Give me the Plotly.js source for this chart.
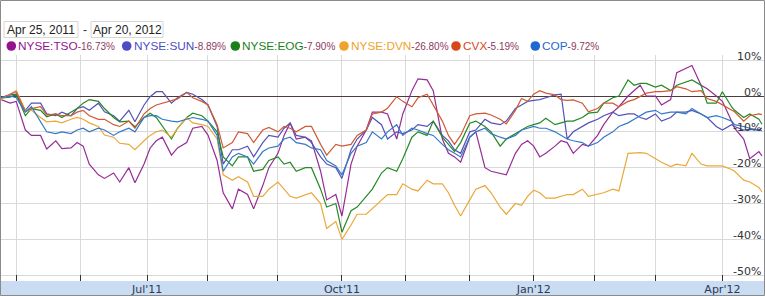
<!DOCTYPE html>
<html><head><meta charset="utf-8">
<script src="https://cdn.plot.ly/plotly-3.0.1.min.js"></script>
<style>html,body{margin:0;padding:0;background:#fff;overflow:hidden}#chart{width:765px;height:296px}</style>
</head><body><div id="chart"></div>
<script>
// ---- data ----
const dates = ['2011-04-25','2011-04-28','2011-05-02','2011-05-05','2011-05-09','2011-05-12','2011-05-16','2011-05-19','2011-05-23','2011-05-26','2011-05-31','2011-06-02','2011-06-06','2011-06-09','2011-06-13','2011-06-16','2011-06-20','2011-06-23','2011-06-27','2011-06-30','2011-07-05','2011-07-07','2011-07-11','2011-07-14','2011-07-18','2011-07-21','2011-07-25','2011-07-28','2011-08-01','2011-08-04','2011-08-08','2011-08-11','2011-08-15','2011-08-18','2011-08-22','2011-08-25','2011-08-29','2011-09-01','2011-09-06','2011-09-08','2011-09-12','2011-09-15','2011-09-19','2011-09-22','2011-09-26','2011-09-29','2011-10-03','2011-10-06','2011-10-10','2011-10-13','2011-10-17','2011-10-20','2011-10-24','2011-10-27','2011-10-31','2011-11-03','2011-11-07','2011-11-10','2011-11-14','2011-11-17','2011-11-21','2011-11-23','2011-11-28','2011-12-01','2011-12-05','2011-12-08','2011-12-12','2011-12-15','2011-12-19','2011-12-22','2011-12-27','2011-12-29','2012-01-03','2012-01-05','2012-01-09','2012-01-12','2012-01-17','2012-01-19','2012-01-23','2012-01-26','2012-01-30','2012-02-02','2012-02-06','2012-02-09','2012-02-13','2012-02-16','2012-02-21','2012-02-23','2012-02-27','2012-03-01','2012-03-05','2012-03-08','2012-03-12','2012-03-15','2012-03-19','2012-03-22','2012-03-26','2012-03-29','2012-04-02','2012-04-05','2012-04-09','2012-04-12','2012-04-16','2012-04-19','2012-04-20'];

const tso = [-1.0,-2.0,-1.5,-9.5,-11.0,-11.0,-14.8,-12.5,-14.7,-14.5,
 -13.0,-14.0,-19.0,-22.0,-23.0,-21.5,-24.0,-20.0,-24.2,-19.0,
 -14.5,-12.5,-11.5,-16.5,-14.5,-13.0,-9.0,-8.5,-10.9,-18.0,
 -27.0,-31.5,-26.0,-27.5,-31.5,-25.0,-20.0,-16.0,-11.0,-7.5,
 -12.0,-11.5,-12.5,-21.0,-29.0,-27.5,-33.5,-19.0,-14.0,-9.5,
 -4.5,-4.5,-5.0,-12.0,-5.0,1.5,4.8,4.5,1.5,-12.0,
 -16.0,-17.0,-18.5,-11.5,-10.0,-20.0,-21.0,-21.5,-22.0,-16.0,
 -13.5,-12.5,-14.0,-17.0,-16.0,-14.0,-12.5,-13.0,-16.0,-13.5,
 -14.0,-11.0,-8.0,-4.5,-3.0,0.0,1.5,3.0,0.0,0.0,
 -2.5,-1.0,6.5,7.8,8.5,3.0,2.0,0.0,-1.5,-7.0,
 -9.0,-12.0,-17.5,-15.5,-16.7];

const sun = [-0.5,0.3,0.5,-4.0,-2.0,-2.0,-5.0,-5.5,-4.5,-5.5,
 -3.5,-3.0,-4.0,-2.0,-4.4,-5.5,-7.0,-4.0,-7.2,-2.5,
 -0.2,1.2,1.2,-2.0,-0.5,1.0,0.5,-1.0,-2.5,-8.5,
 -19.0,-15.0,-15.0,-14.0,-17.0,-13.0,-11.0,-11.5,-9.0,-7.5,
 -11.0,-11.5,-13.0,-17.0,-19.0,-20.0,-23.0,-15.0,-12.0,-9.5,
 -6.0,-8.0,-12.0,-10.0,-10.5,-9.5,-8.0,-8.5,-7.0,-11.0,
 -12.5,-15.0,-16.0,-10.0,-9.5,-6.5,-7.5,-8.0,-7.0,-3.5,
 -2.5,-1.5,-1.2,-1.0,-0.5,0.3,0.5,-12.0,-10.0,-8.5,
 -7.5,-6.5,-5.5,-4.5,-5.5,-5.0,-5.0,-6.0,-6.5,-5.0,
 -7.0,-6.0,-4.5,-4.5,-4.0,-5.0,-6.0,-8.5,-9.5,-8.0,
 -8.5,-9.5,-9.3,-9.5,-8.9];

const eog = [-0.5,-0.3,0.5,-5.5,-3.5,-4.0,-5.8,-5.0,-6.0,-4.5,
 -3.5,-2.0,-1.0,-1.5,-3.5,-6.0,-7.2,-7.0,-8.6,-6.0,
 -4.8,-6.0,-8.5,-12.0,-9.0,-6.0,-4.8,-5.5,-7.0,-10.0,
 -17.0,-19.5,-17.0,-17.0,-21.0,-20.5,-18.0,-17.0,-19.0,-18.5,
 -21.0,-20.0,-20.0,-26.0,-31.0,-30.0,-38.0,-32.0,-31.0,-28.0,
 -26.0,-21.5,-20.0,-21.0,-17.5,-11.5,-10.0,-11.0,-7.0,-11.5,
 -13.5,-15.5,-13.0,-7.6,-7.0,-8.5,-10.0,-14.0,-12.0,-10.5,
 -9.5,-8.5,-8.0,-7.5,-6.2,-8.0,-7.5,-7.0,-7.0,-6.0,
 -4.8,-4.5,-2.0,-0.5,0.0,4.5,3.0,3.5,3.5,2.5,
 3.0,1.5,3.0,4.0,4.5,3.0,-2.0,-2.0,1.2,-3.0,
 -4.0,-6.0,-5.0,-6.5,-7.9];

const dvn = [-1.0,0.5,1.5,-4.0,-4.0,-6.0,-7.2,-7.0,-7.5,-6.5,
 -6.0,-6.5,-7.5,-8.5,-10.9,-11.5,-13.2,-13.5,-15.0,-12.5,
 -11.0,-10.0,-9.5,-11.5,-9.0,-6.0,-7.5,-8.0,-8.5,-12.0,
 -22.0,-23.5,-22.5,-24.0,-28.0,-28.0,-26.0,-24.0,-26.0,-28.0,
 -28.5,-27.5,-27.0,-30.0,-37.0,-35.0,-40.0,-36.0,-33.0,-33.0,
 -31.5,-29.0,-27.5,-27.5,-24.5,-26.0,-26.5,-23.5,-24.5,-24.5,
 -27.0,-30.5,-33.5,-29.0,-26.0,-25.0,-27.0,-31.0,-33.0,-30.0,
 -30.5,-28.0,-26.3,-27.0,-28.5,-28.5,-28.0,-27.5,-27.5,-26.0,
 -28.0,-27.5,-27.0,-26.0,-26.5,-16.0,-15.8,-15.8,-16.0,-17.5,
 -18.5,-19.7,-19.0,-19.5,-16.0,-19.0,-19.5,-19.5,-19.5,-20.5,
 -21.0,-23.5,-24.0,-25.5,-26.8];

const cvx = [-0.5,0.5,1.2,-4.4,-3.5,-3.0,-5.3,-5.0,-5.5,-5.5,
 -4.5,-4.0,-5.5,-6.5,-6.5,-8.0,-8.5,-7.0,-9.0,-5.0,
 -3.5,-2.5,-2.0,-1.2,-0.8,1.0,-0.5,-1.5,-2.5,-8.0,
 -14.5,-13.0,-10.0,-10.5,-13.0,-9.5,-8.8,-10.0,-8.5,-9.0,
 -10.0,-8.5,-8.5,-13.5,-16.5,-13.5,-14.0,-13.5,-11.0,-9.5,
 -5.0,-4.5,-3.4,-0.2,-1.5,-3.0,-0.5,0.5,-2.5,-7.0,
 -11.0,-13.5,-11.0,-5.5,-5.0,-4.8,-5.3,-6.5,-7.8,-4.0,
 -0.7,-1.5,0.5,1.5,0.8,0.3,-1.0,-1.2,-1.1,-2.0,
 -4.4,-3.5,-2.0,-2.0,-3.0,-1.5,-1.0,0.0,0.8,1.2,
 1.2,1.5,2.6,2.0,1.2,1.5,-0.7,-1.5,-2.5,-4.0,
 -4.4,-7.0,-5.5,-5.0,-5.2];

const cop = [-0.5,0.0,-0.5,-4.5,-3.0,-7.0,-10.0,-10.5,-10.0,-10.5,
 -9.5,-9.0,-10.0,-9.0,-9.5,-11.0,-10.0,-9.0,-10.0,-6.0,
 -5.5,-5.5,-6.5,-7.0,-7.2,-6.5,-6.0,-6.5,-7.0,-11.0,
 -21.0,-17.0,-16.0,-17.0,-19.0,-15.5,-14.5,-14.0,-12.0,-11.5,
 -13.0,-13.5,-14.5,-15.0,-18.0,-19.5,-22.0,-16.0,-14.0,-13.0,
 -10.0,-12.0,-10.0,-8.0,-11.0,-9.0,-9.5,-10.5,-11.0,-13.5,
 -15.0,-16.0,-17.0,-11.5,-10.0,-9.0,-10.5,-11.5,-12.0,-11.0,
 -9.5,-9.0,-8.5,-9.0,-9.0,-10.0,-11.0,-12.0,-12.5,-13.0,
 -14.0,-13.0,-11.5,-10.0,-8.5,-7.5,-6.5,-5.5,-4.5,-4.0,
 -5.0,-4.5,-4.5,-5.0,-3.5,-5.0,-6.0,-5.5,-6.0,-7.0,
 -8.0,-8.5,-9.0,-9.5,-9.7];

const names = ['NYSE:TSO','NYSE:SUN','NYSE:EOG','NYSE:DVN','CVX','COP'];
const pcts = ['-16.73%','-8.89%','-7.90%','-26.80%','-5.19%','-9.72%'];
const seriesValues = [tso, sun, eog, dvn, cvx, cop];

const monthTicks = ['2011-05-02','2011-06-01','2011-07-01','2011-08-01','2011-09-01','2011-10-03','2011-11-01','2011-12-01','2012-01-03','2012-02-01','2012-03-01','2012-04-02'];
const monthLabels = ['','',"Jul'11",'','',"Oct'11",'','',"Jan'12",'','',"Apr'12"];
const yTicks = [10,0,-10,-20,-30,-40,-50];
const holidays = ['2011-05-30','2011-07-04','2011-09-05','2011-11-24','2011-12-26','2012-01-02','2012-01-16','2012-02-20','2012-04-06'];
const startLabel = 'Apr 25, 2011';
const endLabel = 'Apr 20, 2012';

// ---- styles ----
const lineColors = ['#962c96','#5252b8','#238a23','#eba83a','#cf5a36','#3578c8'];
const nameColors = ['#93128f','#4d4dc2','#1b7f1b','#f0a32c','#d9461c','#1f68d2'];
const pctColor = '#8e3a62';

const W = 765, H = 296;
const M = {l:1, r:0, t:55, b:15};
const plotW = W - M.l - M.r, plotH = H - M.t - M.b;
const px = x => (x - M.l) / plotW;
const py = y => (H - M.b - y) / plotH;
const zeroY = 96, pxPerPct = 3.583;
const yTop = (zeroY - M.t) / pxPerPct;
const yBot = (zeroY - (H - M.b)) / pxPerPct;

const traces = seriesValues.map((vals, i) => ({
  type: 'scatter', mode: 'lines', x: dates, y: vals, name: names[i],
  line: {color: lineColors[i], width: 1.2}, hoverinfo: 'skip'
}));

const shapes = [];
const annotations = [];
// x-axis band
shapes.push({type:'rect', xref:'paper', yref:'paper', x0:px(0), x1:px(W), y0:py(H), y1:py(H - M.b), fillcolor:'#c9dcf1', line:{width:0}, layer:'below'});
// date boxes
const boxes = [[4,78,startLabel],[91,163,endLabel]];
boxes.forEach(b => {
  shapes.push({type:'rect', xref:'paper', yref:'paper', x0:px(b[0]), x1:px(b[1]), y0:py(37.5), y1:py(21.5), fillcolor:'#fff', line:{color:'#d6d6d6', width:1}});
  annotations.push({xref:'paper', yref:'paper', x:px((b[0]+b[1])/2), y:py(29.5), text:b[2], showarrow:false, xanchor:'center', yanchor:'middle', font:{family:'Liberation Sans, Arial, sans-serif', size:12, color:'#222'}});
});
annotations.push({xref:'paper', yref:'paper', x:px(84.5), y:py(29.5), text:'-', showarrow:false, xanchor:'center', yanchor:'middle', font:{family:'Liberation Sans, Arial, sans-serif', size:12, color:'#333'}});
// legend
const legCx = [11.3, 126.7, 235.3, 344, 456, 535.3];
const legY = 46;
names.forEach((n, i) => {
  const r = 4.8;
  shapes.push({type:'circle', xref:'paper', yref:'paper', x0:px(legCx[i]-r), x1:px(legCx[i]+r), y0:py(legY+r), y1:py(legY-r), fillcolor:nameColors[i], line:{width:0}});
  annotations.push({xref:'paper', yref:'paper', x:px(legCx[i]+5), y:py(legY), xanchor:'left', yanchor:'middle', showarrow:false,
    text: n + '<span style="font-size:10px;color:' + pctColor + '">' + pcts[i] + '</span>',
    font:{family:'Liberation Sans, Arial, sans-serif', size:11.8, color:nameColors[i]}});
});
// y tick labels inside at right
yTicks.forEach(v => {
  annotations.push({xref:'paper', yref:'y', x:1, y:v, xanchor:'right', yanchor:'middle', xshift:-2, yshift:4, showarrow:false,
    text: v + '%', font:{family:'DejaVu Sans, Verdana, sans-serif', size:11, color:'#333'}});
});
// outer frame
shapes.push({type:'rect', xref:'paper', yref:'paper', x0:px(0.5), x1:px(W-0.5), y0:py(H-0.5), y1:py(0.5), line:{color:'#8a8a8a', width:1}, fillcolor:'rgba(0,0,0,0)'});

const layout = {
  width: W, height: H, margin: M, showlegend: false,
  paper_bgcolor: '#fff', plot_bgcolor: 'rgba(0,0,0,0)',
  xaxis: {
    type: 'date', range: ['2011-04-25', '2012-04-20 23:59'],
    rangebreaks: [{bounds:['sat','mon']}, {values: holidays}],
    tickmode: 'array', tickvals: monthTicks, ticktext: monthLabels,
    ticks: 'inside', ticklen: 6, tickcolor: '#333', tickwidth: 1,
    showgrid: true, gridcolor: '#d9d9d9', gridwidth: 1,
    showline: false, zeroline: false,
    tickfont: {family:'DejaVu Sans, Verdana, sans-serif', size: 11, color:'#2b3a55'}
  },
  yaxis: {
    range: [yBot, yTop], tickmode: 'array', tickvals: yTicks, showticklabels: false,
    showgrid: true, gridcolor: '#d9d9d9', gridwidth: 1, ticks: '',
    zeroline: true, zerolinecolor: '#4e3c3c', zerolinewidth: 1, showline: false
  },
  shapes: shapes, annotations: annotations
};

Plotly.newPlot('chart', traces, layout, {staticPlot: true, displayModeBar: false});
</script>
</body></html>
